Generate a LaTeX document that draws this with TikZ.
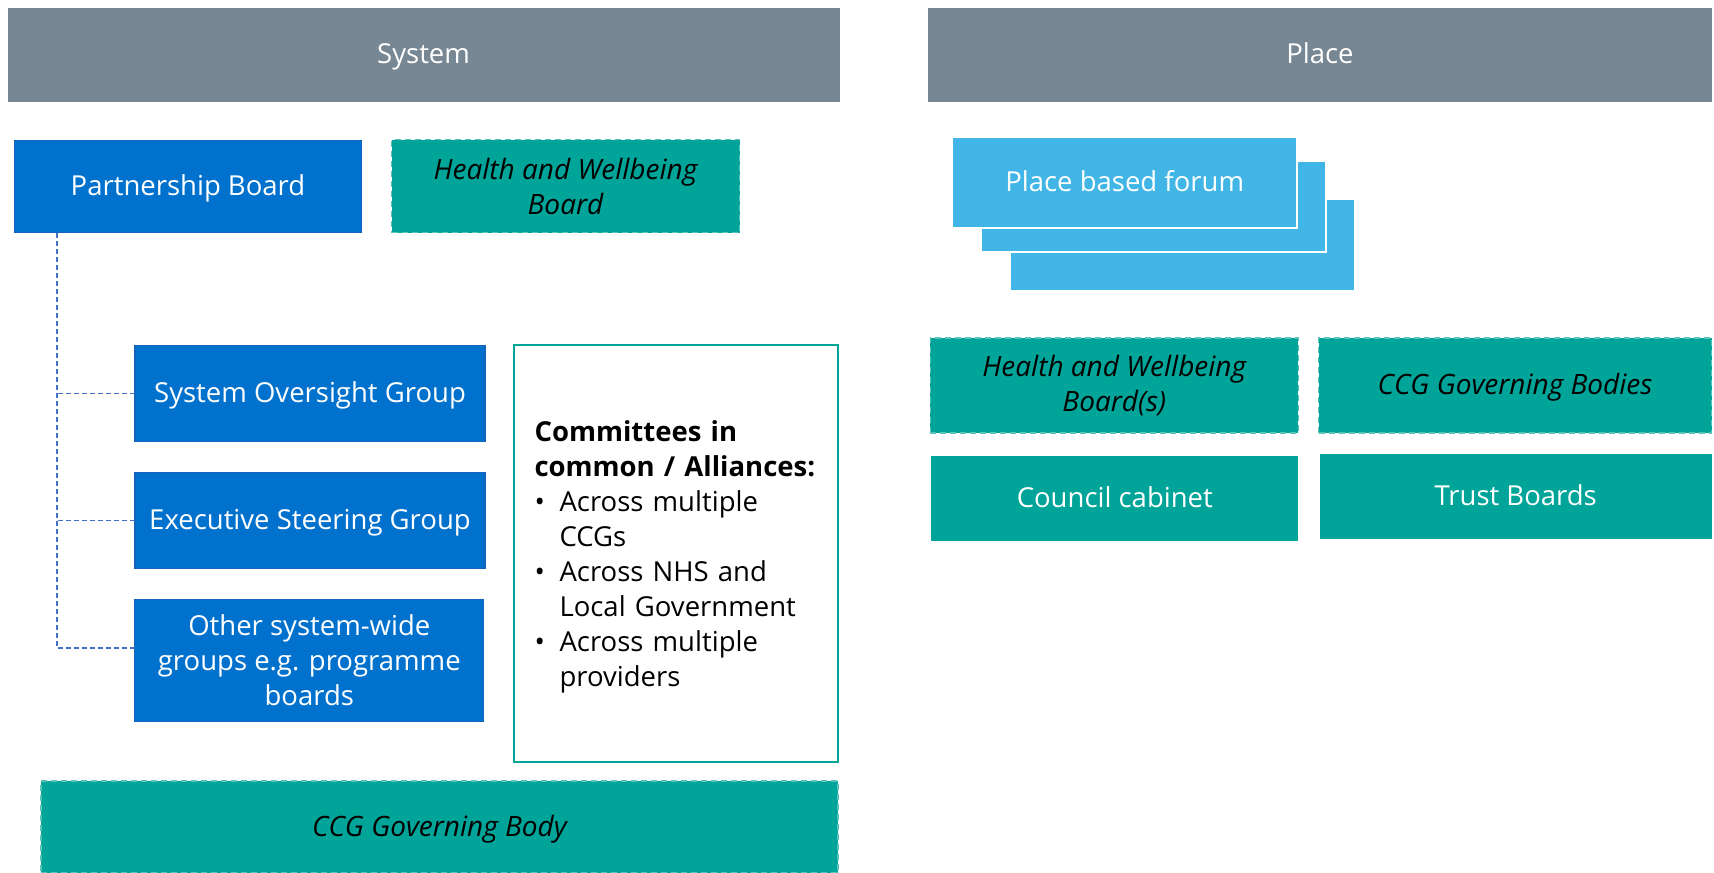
\documentclass[tikz,border=0pt]{standalone}
\usepackage{fontspec}
\setmainfont{Open Sans}
\definecolor{hdrgray}{RGB}{119,135,147}
\definecolor{nhsblue}{RGB}{0,114,206}
\definecolor{nhsblueedge}{RGB}{20,100,190}
\definecolor{teal}{RGB}{0,164,153}
\definecolor{tealedge}{RGB}{90,196,188}
\definecolor{lightblue}{RGB}{65,182,230}
\definecolor{connblue}{RGB}{68,114,196}
\begin{document}
\begin{tikzpicture}[x=1pt,y=-1pt,
  base/.style={inner sep=0pt, outer sep=0pt, align=center, font=\fontsize{27.5}{35}\selectfont},
  oneline/.style={text height=24.8pt, text depth=6.6pt},
  hdr/.style={base, oneline, fill=hdrgray, text=white},
  bluebox/.style={base, fill=nhsblue, draw=nhsblueedge, line width=1.2pt, text=white},
  greendash/.style={base, fill=teal, draw=tealedge, dashed, dash pattern=on 6pt off 4pt, line width=1.6pt, text=black, font=\fontsize{28}{35}\selectfont\itshape},
  greensolid/.style={base, oneline, fill=teal, text=white},
  forumbox/.style={base, fill=lightblue, draw=white, line width=2pt, text=white},
  commbox/.style={inner sep=0pt, fill=white, draw=teal, line width=2pt},
  conn/.style={draw=connblue, dashed, dash pattern=on 5pt off 3pt, line width=1.4pt}
]
\useasboundingbox (0,0) rectangle (1714,873);

% headers
\node[hdr, minimum width=832pt, minimum height=94pt] (sysbar) at (423.6,54.7) {System};
\node[hdr, minimum width=784pt, minimum height=94pt] (placebar) at (1320,54.7) {Place};

% system column
\node[bluebox, oneline, minimum width=347pt, minimum height=92pt] (pb) at (188,186.4) {Partnership Board};
\node[greendash, minimum width=348pt, minimum height=93pt] (hwb) at (565.5,186) {Health and Wellbeing\\Board};

\node[bluebox, oneline, minimum width=350pt, minimum height=96pt] (sog) at (310,393.5) {System Oversight Group};
\node[bluebox, oneline, minimum width=350pt, minimum height=96pt] (esg) at (310,520.2) {Executive Steering Group};
\node[bluebox, minimum width=349pt, minimum height=122pt] (other) at (309.3,660.2) {Other system-wide\\groups e.g. programme\\boards};

\node[commbox, minimum width=324pt, minimum height=417pt] (comm) at (676.1,553.1) {};
\node[base, anchor=west, align=left, text width=300pt] (commtext) at (534.5,557) {%
{\bfseries Committees in}\\
{\bfseries common / Alliances:}\\
\makebox[25pt][l]{•}Across multiple\\
\hspace*{25pt}CCGs\\
\makebox[25pt][l]{•}Across NHS and\\
\hspace*{25pt}Local Government\\
\makebox[25pt][l]{•}Across multiple\\
\hspace*{25pt}providers};

\node[greendash, oneline, minimum width=797pt, minimum height=92pt] (ccgb) at (439.4,827) {CCG Governing Body};

% connectors
\coordinate (spine) at (56.8,232.8);
\draw[conn] (spine) |- ([yshift=12.2pt]other.west);
\draw[conn] (sog.west) -- (sog.west -| spine);
\draw[conn] (esg.west) -- (esg.west -| spine);

% place column
\node[forumbox, minimum width=345pt, minimum height=92pt] (forum3) at (1182.7,245) {};
\node[forumbox, minimum width=345pt, minimum height=91pt] (forum2) at (1153.2,206) {};
\node[forumbox, oneline, minimum width=345pt, minimum height=91pt] (forum1) at (1124.7,182) {Place based forum};

\node[greendash, minimum width=368pt, minimum height=95pt] (phwb) at (1114.3,385.3) {Health and Wellbeing\\Board(s)};
\node[greendash, oneline, minimum width=393pt, minimum height=95pt] (pccg) at (1515,385.3) {CCG Governing Bodies};
\node[greensolid, minimum width=367pt, minimum height=85pt] (council) at (1114.8,498.4) {Council cabinet};
\node[greensolid, minimum width=392pt, minimum height=85pt] (trust) at (1515.7,496.3) {Trust Boards};
\end{tikzpicture}
\end{document}
